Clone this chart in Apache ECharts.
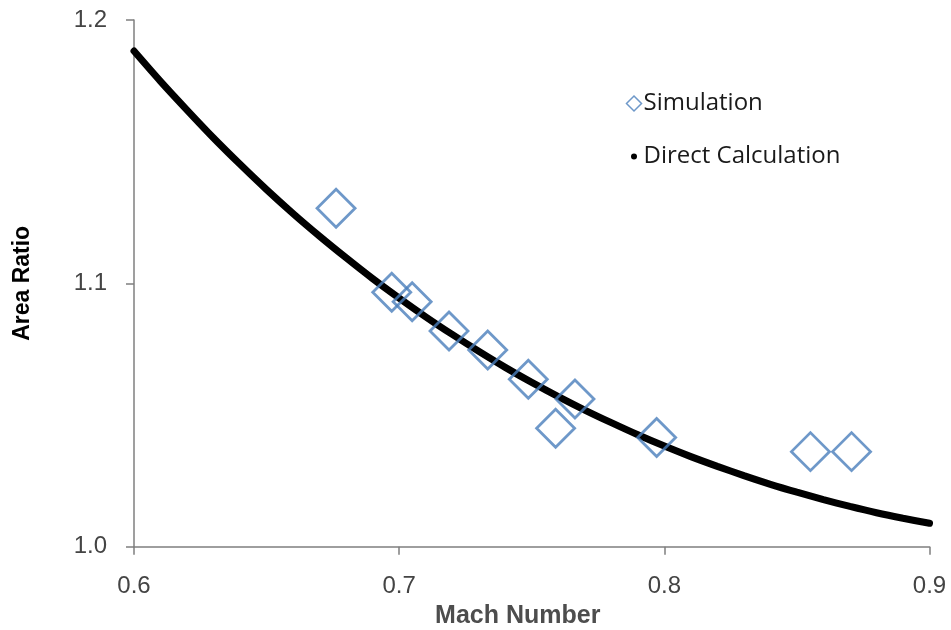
<!DOCTYPE html>
<html>
<head>
<meta charset="UTF-8">
<title>Area Ratio vs Mach Number</title>
<style>
  html, body { margin: 0; padding: 0; background: #fff; }
  #main { width: 951px; height: 630px; }
</style>
</head>
<body>
<div id="main"></div>
<script src="https://cdn.jsdelivr.net/npm/echarts@6/dist/echarts.min.js"></script>
<script>
// Simulation points (Mach, area ratio)
var simMach = [0.6762, 0.6972, 0.7049, 0.7188, 0.7334, 0.7487, 0.7663, 0.7590, 0.7971, 0.8551, 0.8706];
var simRatio = [1.1285, 1.0966, 1.0930, 1.0819, 1.0747, 1.0636, 1.0561, 1.0450, 1.0415, 1.0361, 1.0361];

// Direct calculation curve
var calcMach = [0.60, 0.61, 0.62, 0.63, 0.64, 0.65, 0.66, 0.67, 0.68, 0.69, 0.70,
                0.71, 0.72, 0.73, 0.74, 0.75, 0.76, 0.77, 0.78, 0.79, 0.80,
                0.81, 0.82, 0.83, 0.84, 0.85, 0.86, 0.87, 0.88, 0.89, 0.90];
var calcRatio = [1.1882, 1.1767, 1.1658, 1.1552, 1.1452, 1.1356, 1.1265, 1.1179, 1.1097, 1.1018, 1.0944,
                 1.0873, 1.0806, 1.0742, 1.0681, 1.0624, 1.0570, 1.0519, 1.0471, 1.0425, 1.0382,
                 1.0342, 1.0305, 1.0270, 1.0237, 1.0207, 1.0179, 1.0153, 1.0129, 1.0108, 1.0089];

var pair = function (xs, ys) {
  return xs.map(function (x, i) { return [x, ys[i]]; });
};

var axisColor = '#7f7f7f';
var labelFont = '"Liberation Sans", Arial, sans-serif';

var myChart = echarts.init(document.getElementById('main'));
var option = {
  animation: false,
  backgroundColor: '#fff',
  grid: { left: 134, right: 21.5, top: 20, bottom: 83.3, outerBoundsMode: 'none', containLabel: false },
  legend: {
    orient: 'vertical',
    left: 617,
    top: 86,
    itemWidth: 15,
    itemHeight: 15,
    itemGap: 28,
    textStyle: { fontFamily: '"Open Sans", sans-serif', fontSize: 24, color: '#1a1a1a', lineHeight: 25, padding: [0, 0, 0, -3] },
    data: [
      { name: 'Simulation', icon: 'diamond',
        itemStyle: { color: 'transparent', borderColor: '#4a7ebb', borderWidth: 1.5 } },
      { name: 'Direct Calculation', icon: 'circle',
        itemStyle: { color: '#000', borderColor: '#fff', borderWidth: 9 } }
    ]
  },
  xAxis: {
    type: 'value',
    min: 0.6,
    max: 0.9,
    interval: 0.1,
    name: 'Mach Number',
    nameLocation: 'middle',
    nameGap: 57,
    nameTextStyle: { fontFamily: labelFont, fontSize: 25, fontWeight: 'bold', color: '#4d4d4d', padding: [0, 28, 0, 0] },
    axisLine: { lineStyle: { color: axisColor, width: 1.5 } },
    axisTick: { length: 8, lineStyle: { color: axisColor, width: 1.5 } },
    axisLabel: {
      margin: 28,
      fontFamily: labelFont, fontSize: 24, color: '#444',
      formatter: function (v) { return v.toFixed(1); }
    },
    splitLine: { show: false }
  },
  yAxis: {
    type: 'value',
    min: 1.0,
    max: 1.2,
    interval: 0.1,
    name: 'Area Ratio',
    nameLocation: 'middle',
    nameRotate: 90,
    nameGap: 100,
    nameTextStyle: { fontFamily: labelFont, fontSize: 23, fontWeight: 'bold', color: '#000' },
    axisLine: { show: true, lineStyle: { color: axisColor, width: 1.5 } },
    axisTick: { show: true, length: 8, lineStyle: { color: axisColor, width: 1.5 } },
    axisLabel: {
      margin: 27,
      fontFamily: labelFont, fontSize: 24, color: '#444',
      formatter: function (v) { return v.toFixed(1); }
    },
    splitLine: { show: false }
  },
  series: [
    {
      name: 'Direct Calculation',
      type: 'line',
      data: pair(calcMach, calcRatio),
      showSymbol: false,
      symbol: 'none',
      smooth: 0.3,
      lineStyle: { color: '#000', width: 7, cap: 'round' },
      itemStyle: { color: '#000' },
      z: 2
    },
    {
      name: 'Simulation',
      type: 'scatter',
      data: pair(simMach, simRatio),
      symbol: 'diamond',
      symbolSize: 38,
      itemStyle: { color: 'transparent', borderColor: '#4a7ebb', borderWidth: 2.8 },
      z: 3
    }
  ]
};
myChart.setOption(option);
</script>
</body>
</html>
